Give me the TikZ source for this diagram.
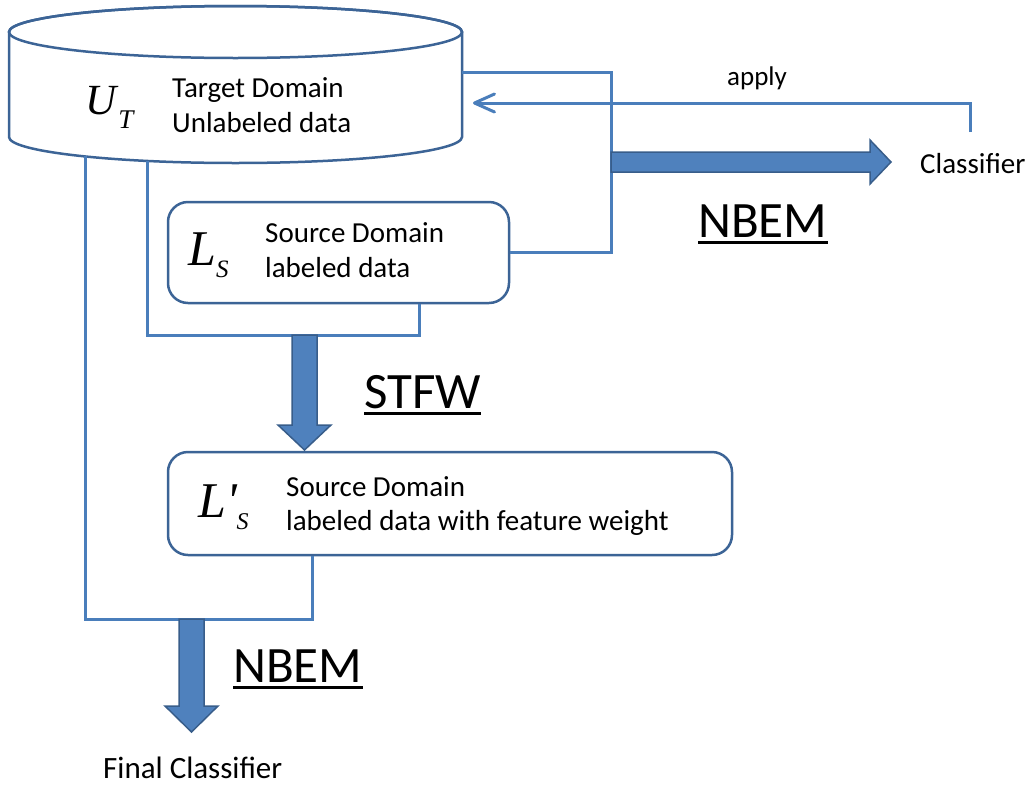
\documentclass[tikz,border=0pt]{standalone}
\usepackage{fontspec}
\setmainfont{Carlito}
\newfontfamily\tnr{Liberation Serif}
\usetikzlibrary{arrows.meta}
\definecolor{connc}{RGB}{74,126,187}
\definecolor{outl}{RGB}{60,100,150}
\definecolor{afill}{RGB}{79,129,189}
\definecolor{aedge}{RGB}{56,93,138}
\begin{document}
\begin{tikzpicture}[x=1pt,y=-1pt,
  connector/.style={draw=connc, line width=3pt},
  boxnode/.style={draw=outl, line width=2.5pt, rounded corners=20pt, fill=white, inner sep=0pt},
  bigarrow/.style={fill=afill, draw=aedge, line width=1.5pt, line join=miter},
  body/.style={inner sep=0pt, anchor=base west, font=\fontsize{29}{35}\selectfont},
  bigtxt/.style={inner sep=0pt, anchor=base west, font=\fontsize{51}{60}\selectfont},
  sym/.style={inner sep=0pt, anchor=base west},
  uline/.style={line width=3pt, draw=black}]
\useasboundingbox (0,0) rectangle (1030,785);

\coordinate (cylB1) at (85,156);
\coordinate (cylB2) at (147,161);
\coordinate (cylR) at (462,72);
\coordinate (cylA) at (473,103);
\coordinate (applyS) at (970,132);
\coordinate (k1) at (312,619);
\coordinate (k2) at (419,335);
\coordinate (k3) at (611,72);

% cylinder U_T
\filldraw[fill=white, draw=outl, line width=2.5pt] (9,32) -- (9,137)
  arc[start angle=180, end angle=360, x radius=226.5pt, y radius=26pt] -- (462,32)
  arc[start angle=0, end angle=180, x radius=226.5pt, y radius=26pt] -- cycle;
\draw[draw=outl, line width=2.5pt] (235.5,32) ellipse [x radius=226.5pt, y radius=26pt];

% boxes
\node[boxnode, minimum width=341pt, minimum height=101pt] (ls) at (338.5,252.5) {};
\node[boxnode, minimum width=564pt, minimum height=103pt] (lp) at (450,503.5) {};

% connectors
\draw[connector] (cylB1) |- (k1) -- (k1 |- lp.south);
\draw[connector] (cylB2) |- (k2) -- (k2 |- ls.south);
\draw[connector] (cylR) -- (k3) |- (ls.east);
\draw[connector, -{Straight Barb[length=20pt,width=18pt,round]}] (applyS) |- (cylA);

% thick arrows
\draw[bigarrow] (611,152) -- (870,152) -- (870,140) -- (891,162) -- (870,184) -- (870,172) -- (611,172) -- cycle;
\draw[bigarrow] (292,335) -- (292,425) -- (278,425) -- (304.5,450) -- (331,425) -- (317,425) -- (317,335) -- cycle;
\draw[bigarrow] (179,619) -- (179,706) -- (165,706) -- (191.5,732) -- (218,706) -- (204,706) -- (204,619) -- cycle;

% symbols
\node[sym] (ut) at (85,114) {\tnr\itshape\fontsize{43}{43}\selectfont U\kern2pt\raisebox{-14pt}{\fontsize{27}{27}\selectfont T}};
\node[sym] (lsym) at (188,265) {\tnr\itshape\fontsize{50}{50}\selectfont L\raisebox{-12pt}{\fontsize{25}{25}\selectfont S}};
\node[sym] (lpsym) at (198,517) {\tnr\itshape\fontsize{50}{50}\selectfont L'\raisebox{-12pt}{\fontsize{24}{24}\selectfont S}};

% texts
\node[body] (t1) at (172,97) {Target Domain};
\node[body] (t2) at (172,132) {Unlabeled data};
\node[body] (s1) at (265,242) {Source Domain};
\node[body] (s2) at (265,277) {labeled data};
\node[body] (p1) at (286,496) {Source Domain};
\node[body] (p2) at (286,530) {labeled data with feature weight};
\node[body] (clf) at (920,173) {Classifier};
\node[sym, font=\fontsize{27}{30}\selectfont] (apply) at (727,85) {apply};
\node[sym, font=\fontsize{31}{35}\selectfont] (final) at (103,778) {Final Classifier};

\node[bigtxt] (nb1) at (698,237) {NBEM};
\node[bigtxt] (stfw) at (364,408) {STFW};
\node[bigtxt] (nb2) at (233,682) {NBEM};
\draw[uline] ([yshift=-5.5pt]nb1.base west) -- ([yshift=-5.5pt]nb1.base east);
\draw[uline] ([yshift=-5.5pt]stfw.base west) -- ([yshift=-5.5pt]stfw.base east);
\draw[uline] ([yshift=-5.5pt]nb2.base west) -- ([yshift=-5.5pt]nb2.base east);
\end{tikzpicture}
\end{document}
